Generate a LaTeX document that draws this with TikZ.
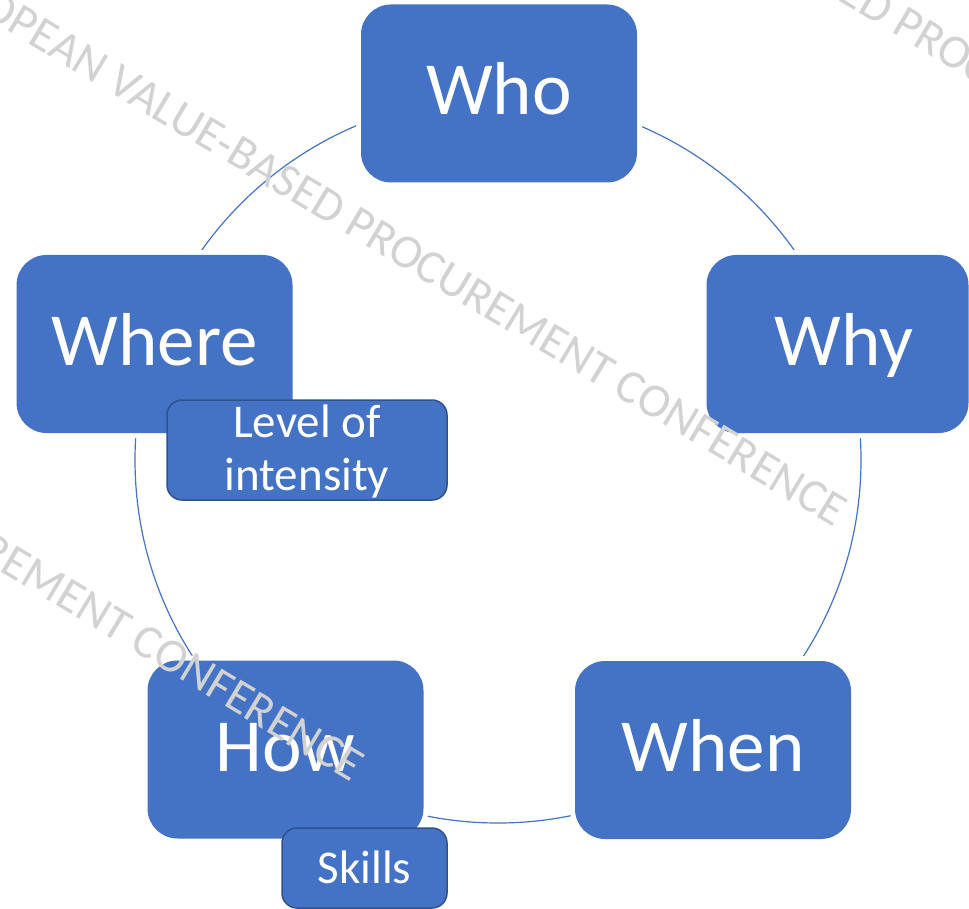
\documentclass[tikz,border=0pt]{standalone}
\usepackage{fontspec}
\setmainfont{Carlito}
\definecolor{boxblue}{RGB}{68,114,196}
\definecolor{boxedge}{RGB}{47,82,143}
\definecolor{wmgray}{RGB}{210,210,210}
\begin{document}
\begin{tikzpicture}[x=1pt,y=-1pt,
  bigbox/.style={rectangle, rounded corners=30pt, fill=boxblue, draw=none,
    preaction={draw=white, line width=10pt},
    minimum width=276pt, minimum height=178pt, inner sep=0pt, text=white,
    font=\fontsize{75}{80}\selectfont, text height=52pt, text depth=9pt},
  smallbox/.style={rectangle, rounded corners=15pt, fill=boxblue, draw=boxedge,
    line width=1.5pt, inner sep=0pt, text=white,
    font=\fontsize{47}{53}\selectfont, align=center},
  ring/.style={draw=boxblue, line width=1.2pt},
  wmark/.style={text=wmgray, font=\fontsize{47.5}{57}\selectfont, inner sep=0pt,
    rotate=-31, anchor=base east}]
\useasboundingbox (0,0) rectangle (969,909);
\coordinate (c) at (498,460);
\draw[ring] (c) circle[radius=363pt];
\node[bigbox] (who) at (499,93.5) {Who};
\node[bigbox, minimum width=262pt] (why) at (837.5,344) {\hspace*{13pt}Why};
\node[bigbox] (where) at (154.5,344) {Where};
\node[bigbox] (how) at (285.5,749.5) {How};
\node[bigbox] (when) at (713,750) {When};
\node[smallbox, minimum width=280pt, minimum height=100pt, text height=88pt, text depth=8pt] (level) at (307,450) {Level of\\intensity};
\node[smallbox, minimum width=165pt, minimum height=80pt, text height=36pt, text depth=6pt] (skills) at (364.5,868) {Skills};
\begin{scope}
\clip (0,0) rectangle (969,909);
\node[wmark] (wm1) at (835,528) {EUROPEAN VALUE-BASED PROCUREMENT CONFERENCE};
\node[wmark] (wm2) at (352,783) {EUROPEAN VALUE-BASED PROCUREMENT CONFERENCE};
\node[wmark] (wm3) at (1383,328) {EUROPEAN VALUE-BASED PROCUREMENT CONFERENCE};
\end{scope}
\end{tikzpicture}
\end{document}
